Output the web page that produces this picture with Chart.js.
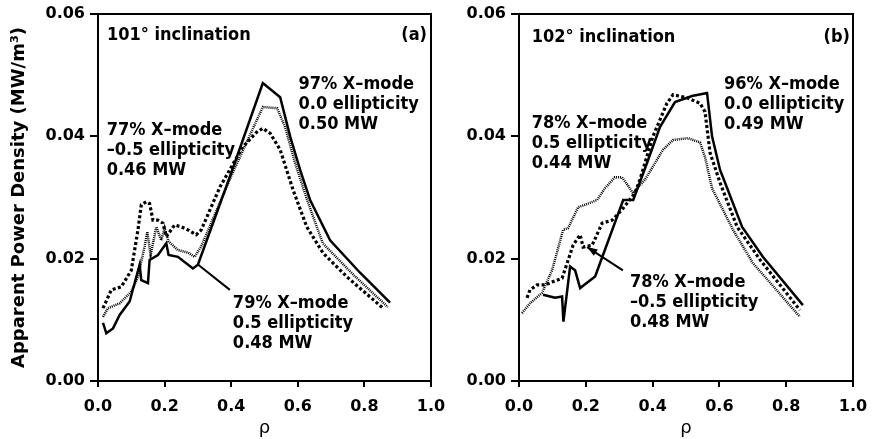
<!DOCTYPE html>
<html>
<head>
<meta charset="utf-8">
<script src="https://cdn.jsdelivr.net/npm/chart.js@4.4.0/dist/chart.umd.min.js"></script>
<style>
  html, body { margin: 0; padding: 0; background: #fff; }
  #wrap { position: relative; width: 878px; height: 439px; overflow: hidden; }
  .panel { position: absolute; top: 0; }
</style>
</head>
<body>
<div id="wrap">
  <canvas id="chartA" class="panel" width="460" height="439" style="left:0"></canvas>
  <canvas id="chartB" class="panel" width="438" height="439" style="left:440px"></canvas>
</div>
<script>
// panel (a): 101 deg inclination
const rhoA_x97 = [0.015, 0.025, 0.045, 0.065, 0.095, 0.125, 0.13, 0.15, 0.155, 0.18, 0.205, 0.212, 0.24, 0.285, 0.30, 0.40, 0.495, 0.547, 0.577, 0.607, 0.637, 0.697, 0.787, 0.877];
const valA_x97 = [0.0095, 0.0078, 0.0086, 0.0108, 0.013, 0.019, 0.0165, 0.016, 0.0198, 0.0206, 0.0225, 0.0206, 0.0203, 0.0184, 0.019, 0.034, 0.0487, 0.0464, 0.040, 0.0345, 0.0296, 0.023, 0.0177, 0.0128];

const rhoA_x79 = [0.015, 0.03, 0.065, 0.10, 0.12, 0.14, 0.148, 0.158, 0.175, 0.19, 0.20, 0.212, 0.24, 0.27, 0.29, 0.31, 0.40, 0.495, 0.538, 0.562, 0.592, 0.628, 0.675, 0.77, 0.87];
const valA_x79 = [0.0105, 0.0119, 0.0127, 0.0146, 0.017, 0.022, 0.0244, 0.0206, 0.0252, 0.023, 0.025, 0.0228, 0.0214, 0.021, 0.0203, 0.022, 0.0335, 0.0448, 0.0446, 0.0415, 0.0356, 0.0296, 0.0225, 0.0172, 0.0121];

const rhoA_x77 = [0.015, 0.04, 0.07, 0.10, 0.12, 0.13, 0.145, 0.155, 0.165, 0.18, 0.195, 0.205, 0.23, 0.25, 0.27, 0.295, 0.31, 0.366, 0.435, 0.477, 0.495, 0.517, 0.547, 0.586, 0.627, 0.676, 0.748, 0.856];
const valA_x77 = [0.0119, 0.0149, 0.0154, 0.0181, 0.0247, 0.0288, 0.0293, 0.029, 0.0263, 0.0263, 0.0258, 0.0236, 0.0255, 0.0252, 0.0247, 0.0239, 0.0247, 0.0317, 0.0383, 0.0407, 0.0413, 0.0405, 0.0378, 0.0312, 0.0252, 0.0209, 0.017, 0.0119];

// panel (b): 102 deg inclination
const rhoB_x96 = [0.072, 0.108, 0.129, 0.133, 0.153, 0.168, 0.183, 0.228, 0.312, 0.342, 0.383, 0.422, 0.467, 0.518, 0.563, 0.578, 0.602, 0.617, 0.668, 0.73, 0.85];
const valB_x96 = [0.0141, 0.0136, 0.0138, 0.0097, 0.0187, 0.0181, 0.0152, 0.0171, 0.0296, 0.0296, 0.0356, 0.0415, 0.0456, 0.0466, 0.0471, 0.040, 0.0345, 0.0324, 0.0252, 0.0203, 0.0124];

const rhoB_x78n = [0.024, 0.033, 0.054, 0.078, 0.099, 0.129, 0.162, 0.183, 0.192, 0.219, 0.249, 0.279, 0.308, 0.347, 0.362, 0.401, 0.443, 0.461, 0.503, 0.542, 0.557, 0.572, 0.602, 0.653, 0.722, 0.841];
const valB_x78n = [0.0136, 0.0149, 0.0157, 0.0157, 0.0162, 0.0168, 0.0222, 0.0239, 0.0219, 0.0222, 0.0258, 0.0263, 0.028, 0.0307, 0.0329, 0.040, 0.0454, 0.0468, 0.0463, 0.0454, 0.044, 0.0373, 0.0324, 0.0252, 0.0198, 0.0116];

const rhoB_x78p = [0.009, 0.033, 0.069, 0.099, 0.132, 0.147, 0.177, 0.207, 0.234, 0.257, 0.287, 0.308, 0.326, 0.341, 0.377, 0.431, 0.461, 0.506, 0.542, 0.557, 0.578, 0.641, 0.70, 0.841];
const valB_x78p = [0.0111, 0.0127, 0.0144, 0.0181, 0.0247, 0.025, 0.0284, 0.029, 0.0296, 0.0315, 0.0333, 0.0333, 0.032, 0.0307, 0.0329, 0.0378, 0.0394, 0.0397, 0.039, 0.0366, 0.0315, 0.0247, 0.0193, 0.0105];

const xTicks = [0, 0.2, 0.4, 0.6, 0.8, 1.0];
const yTicks = [0, 0.02, 0.04, 0.06];

const FONT = "'DejaVu Sans', 'Liberation Sans', sans-serif";
const FONT_NOTE = "'DejaVu Sans Condensed', 'DejaVu Sans', sans-serif";

// text notes, placed at (rho, value) of the first baseline
const notesA = [
    { rho: 0.027, val: 0.0557, lines: ['101\u00b0 inclination'] },
    { rho: 0.988, val: 0.0557, lines: ['(a)'], align: 'right' },
    { rho: 0.602, val: 0.0478, lines: ['97% X\u2013mode', '0.0 ellipticity', '0.50 MW'] },
    { rho: 0.026, val: 0.0402, lines: ['77% X\u2013mode', '\u20130.5 ellipticity', '0.46 MW'] },
    { rho: 0.405, val: 0.0119, lines: ['79% X\u2013mode', '0.5 ellipticity', '0.48 MW'] }
];
const notesB = [
    { rho: 0.038, val: 0.0555, lines: ['102\u00b0 inclination'] },
    { rho: 0.991, val: 0.0555, lines: ['(b)'], align: 'right' },
    { rho: 0.614, val: 0.0478, lines: ['96% X\u2013mode', '0.0 ellipticity', '0.49 MW'] },
    { rho: 0.038, val: 0.0413, lines: ['78% X\u2013mode', '0.5 ellipticity', '0.44 MW'] },
    { rho: 0.332, val: 0.0154, lines: ['78% X\u2013mode', '\u20130.5 ellipticity', '0.48 MW'] }
];
const pointersA = [ { from: [0.396, 0.0149], to: [0.301, 0.019], arrow: false } ];
const pointersB = [ { from: [0.311, 0.0181], to: [0.204, 0.0219], arrow: true } ];

function pts(rho, val) {
    return rho.map((r, i) => ({ x: r, y: val[i] }));
}

const styleSolid  = { borderColor: '#000', borderWidth: 2.5, borderDash: [] };
const styleDotted = { borderColor: '#000', borderWidth: 2.5, borderDash: [1, 1] };
const styleDashed = { borderColor: '#000', borderWidth: 3.2, borderDash: [3, 2.4] };

function ds(label, rho, val, style) {
    return Object.assign({
        label: label,
        data: pts(rho, val),
        showLine: true,
        pointRadius: 0,
        tension: 0,
        fill: false
    }, style);
}

// frame, notes and pointer lines
const panelDecor = {
    id: 'panelDecor',
    afterDatasetsDraw(chart, args, opts) {
        const { ctx, chartArea: a } = chart;
        const x = chart.scales.x, y = chart.scales.y;
        ctx.save();
        ctx.strokeStyle = '#000';
        ctx.lineWidth = 2;
        ctx.strokeRect(a.left, a.top, a.right - a.left, a.bottom - a.top);

        ctx.fillStyle = '#000';
        ctx.font = 'bold 18px ' + FONT_NOTE;
        ctx.textBaseline = 'alphabetic';
        opts.notes.forEach(n => {
            ctx.textAlign = n.align || 'left';
            const px = x.getPixelForValue(n.rho);
            const py = y.getPixelForValue(n.val);
            n.lines.forEach((line, i) => ctx.fillText(line, px, py + i * 20));
        });

        ctx.lineWidth = 2;
        opts.pointers.forEach(p => {
            const x0 = x.getPixelForValue(p.from[0]), y0 = y.getPixelForValue(p.from[1]);
            const x1 = x.getPixelForValue(p.to[0]), y1 = y.getPixelForValue(p.to[1]);
            ctx.beginPath();
            ctx.moveTo(x0, y0);
            ctx.lineTo(x1, y1);
            ctx.stroke();
            if (p.arrow) {
                const ang = Math.atan2(y1 - y0, x1 - x0);
                ctx.beginPath();
                ctx.moveTo(x1, y1);
                ctx.lineTo(x1 - 11 * Math.cos(ang - 0.35), y1 - 11 * Math.sin(ang - 0.35));
                ctx.lineTo(x1 - 11 * Math.cos(ang + 0.35), y1 - 11 * Math.sin(ang + 0.35));
                ctx.closePath();
                ctx.fill();
            }
        });
        ctx.restore();
    }
};

function makeChart(id, datasets, yWidth, padRight, withTitle, notes, pointers) {
    return new Chart(document.getElementById(id), {
        type: 'scatter',
        data: { datasets: datasets },
        options: {
            responsive: false,
            animation: false,
            layout: { padding: { left: 0, right: padRight, top: 14, bottom: 0 } },
            plugins: {
                legend: { display: false },
                tooltip: { enabled: false },
                panelDecor: { notes: notes, pointers: pointers }
            },
            scales: {
                x: {
                    type: 'linear',
                    min: 0, max: 1,
                    afterBuildTicks: s => { s.ticks = xTicks.map(v => ({ value: v })); },
                    afterFit: s => { s.height = 58; s.paddingLeft = 0; s.paddingRight = 0; },
                    ticks: {
                        color: '#000',
                        font: { family: FONT, size: 16, weight: 'bold' },
                        padding: 10,
                        maxRotation: 0,
                        callback: v => v.toFixed(1)
                    },
                    grid: { drawOnChartArea: false, color: '#000', lineWidth: 2, tickLength: 6 },
                    border: { color: '#000', width: 2 },
                    title: {
                        display: true, text: '\u03c1', color: '#000',
                        font: { family: FONT, size: 18 },
                        padding: { top: 0, bottom: 0 }
                    }
                },
                y: {
                    type: 'linear',
                    min: 0, max: 0.06,
                    afterBuildTicks: s => { s.ticks = yTicks.map(v => ({ value: v })); },
                    afterFit: s => { s.width = yWidth; s.paddingTop = 0; s.paddingBottom = 0; },
                    ticks: {
                        color: '#000',
                        font: { family: FONT, size: 16, weight: 'bold' },
                        padding: 5,
                        callback: v => v.toFixed(2)
                    },
                    grid: { drawOnChartArea: false, color: '#000', lineWidth: 2, tickLength: 8 },
                    border: { color: '#000', width: 2 },
                    title: {
                        display: withTitle, text: 'Apparent Power Density (MW/m\u00b3)', color: '#000',
                        font: { family: FONT, size: 18, weight: 'bold' },
                        padding: { top: 9, bottom: 0 }
                    }
                }
            }
        },
        plugins: [panelDecor]
    });
}

makeChart('chartA', [
    ds('97% X-mode, 0.0 ellipticity', rhoA_x97, valA_x97, styleSolid),
    ds('79% X-mode, 0.5 ellipticity', rhoA_x79, valA_x79, styleDotted),
    ds('77% X-mode, -0.5 ellipticity', rhoA_x77, valA_x77, styleDashed)
], 98, 29, true, notesA, pointersA);

makeChart('chartB', [
    ds('96% X-mode, 0.0 ellipticity', rhoB_x96, valB_x96, styleSolid),
    ds('78% X-mode, 0.5 ellipticity', rhoB_x78p, valB_x78p, styleDotted),
    ds('78% X-mode, -0.5 ellipticity', rhoB_x78n, valB_x78n, styleDashed)
], 79, 25, false, notesB, pointersB);
</script>
</body>
</html>
